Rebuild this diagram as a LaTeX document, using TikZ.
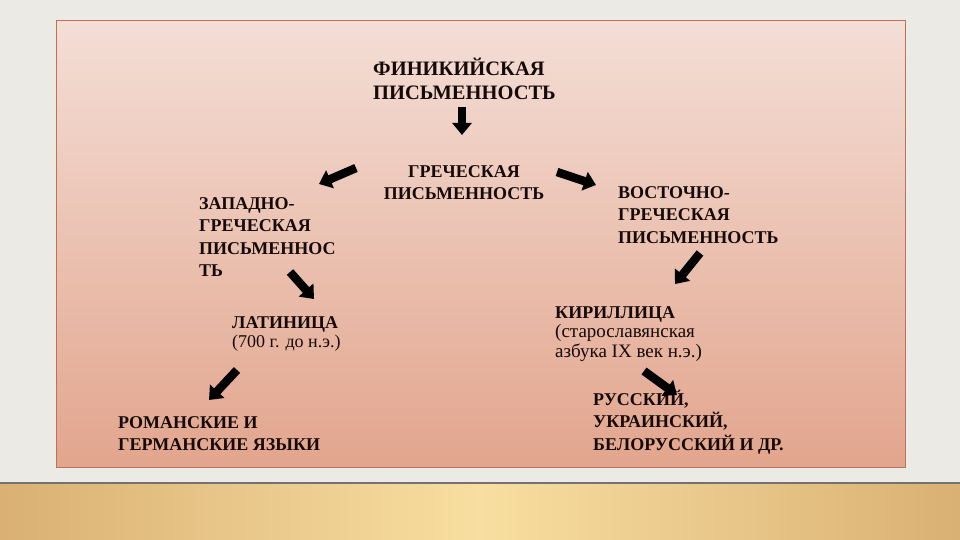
\documentclass[tikz,border=0pt]{standalone}
\usepackage{fontspec}
\setmainfont{Liberation Serif}
\usetikzlibrary{arrows.meta}
\definecolor{bgGrey}{RGB}{235,234,229}
\definecolor{rectTop}{RGB}{244,222,214}
\definecolor{rectBot}{RGB}{226,165,141}
\definecolor{rectEdge}{RGB}{190,112,88}
\definecolor{woodDark}{RGB}{218,176,116}
\definecolor{woodLight}{RGB}{248,222,160}
\definecolor{inkDark}{RGB}{22,10,8}
\tikzset{
  blockarrow/.style={draw=black, line width=8.5pt, line cap=butt,
    -{Triangle[length=12pt,width=19pt]}},
  txt/.style={anchor=north west, inner sep=0pt, align=left, text=inkDark},
  capsA/.style={font=\fontsize{20.5}{24}\selectfont\bfseries},
  capsB/.style={font=\fontsize{18}{22.5}\selectfont\bfseries},
}
\newcommand{\topline}[1]{\rule{0pt}{#1}}
\begin{document}
\begin{tikzpicture}[x=1pt,y=-1pt]
% background
\fill[bgGrey] (0,0) rectangle (960,540);
\useasboundingbox (0,0) rectangle (960,540);
% floor
\fill[left color=woodDark, right color=woodDark, middle color=woodLight] (0,483) rectangle (960,540);
\fill[black!55] (0,482) rectangle (960,484);
% slide shadow + rect
\fill[black!8] (58,24) rectangle (908,470);
\shade[top color=rectTop, bottom color=rectBot] (56,21) rectangle (905,467);
\draw[rectEdge, line width=1pt] (56,21) rectangle (905,467);

% texts
\node[txt, capsA] (phoen) at (373,54.5) {\topline{1em}ФИНИКИЙСКАЯ\\ПИСЬМЕННОСТЬ};
\node[txt, capsB, anchor=north, align=center] (greek) at (464,159) {\topline{1em}ГРЕЧЕСКАЯ\\ПИСЬМЕННОСТЬ};
\node[txt, capsB] (west) at (199,191) {\topline{1em}ЗАПАДНО-\\ГРЕЧЕСКАЯ\\ПИСЬМЕННОС\\ТЬ};
\node[txt, capsB] (east) at (618,180) {\topline{1em}ВОСТОЧНО-\\ГРЕЧЕСКАЯ\\ПИСЬМЕННОСТЬ};
\node[txt, font=\fontsize{18}{19.5}\selectfont] (latin) at (232,310) {\topline{1em}\textbf{ЛАТИНИЦА}\\(700 г. до н.э.)};
\node[txt, font=\fontsize{19}{19.5}\selectfont] (cyr) at (555,300) {\topline{18pt}\textbf{\fontsize{18}{19.5}\selectfont КИРИЛЛИЦА}\\(старославянская\\азбука IX век н.э.)};
\node[txt, capsB] (roman) at (118,410) {\topline{1em}РОМАНСКИЕ И\\ГЕРМАНСКИЕ ЯЗЫКИ};
\node[txt, capsB] (slav) at (593,387) {\topline{1em}РУССКИЙ,\\УКРАИНСКИЙ,\\БЕЛОРУССКИЙ И ДР.};

% arrow end points
\coordinate (a1t) at (462,107); \coordinate (a1h) at (462,135);
\coordinate (a2t) at (356,168); \coordinate (a2h) at (319,184);
\coordinate (a3t) at (557,172); \coordinate (a3h) at (596,185);
\coordinate (a4t) at (290,272); \coordinate (a4h) at (314,299);
\coordinate (a5t) at (700,253); \coordinate (a5h) at (675,284);
\coordinate (a6t) at (644,371); \coordinate (a6h) at (677,395);
\coordinate (a7t) at (237,370); \coordinate (a7h) at (209,400);

\draw[blockarrow] (a1t) -- (a1h);
\draw[blockarrow] (a2t) -- (a2h);
\draw[blockarrow] (a3t) -- (a3h);
\draw[blockarrow] (a4t) -- (a4h);
\draw[blockarrow] (a5t) -- (a5h);
\draw[blockarrow] (a6t) -- (a6h);
\draw[blockarrow] (a7t) -- (a7h);
\end{tikzpicture}
\end{document}
